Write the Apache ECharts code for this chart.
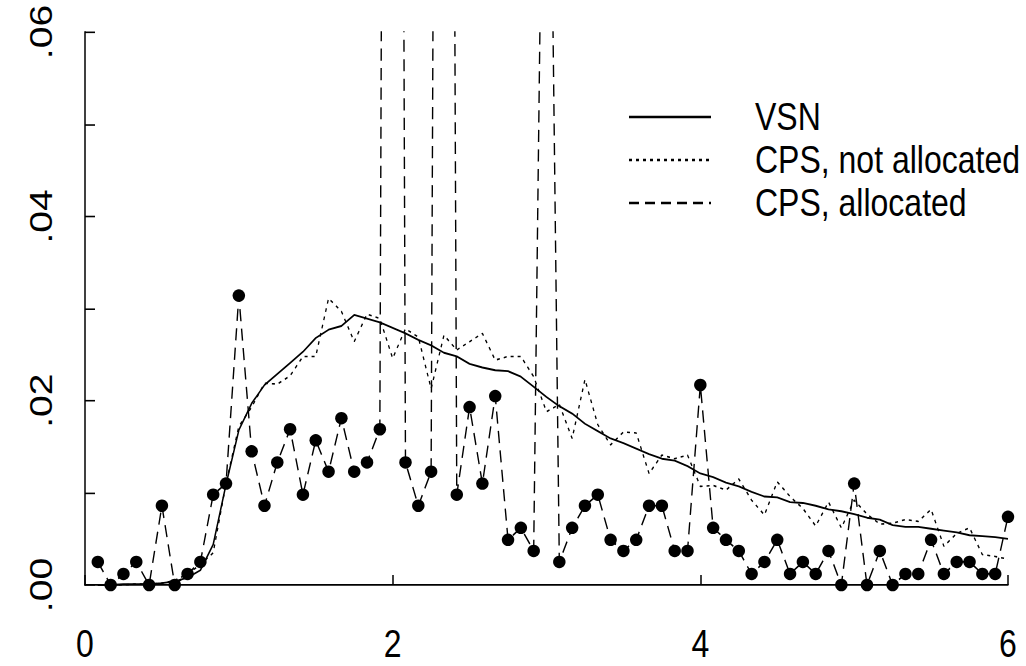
<!DOCTYPE html>
<html>
<head>
<meta charset="utf-8">
<script src="https://cdn.jsdelivr.net/npm/echarts@6/dist/echarts.min.js"></script>
<style>
html,body{margin:0;padding:0;background:#fff;overflow:hidden;}
#wrap{width:1026px;height:666px;overflow:hidden;}
#chart{width:1026px;height:546px;transform:scaleY(1.21978);transform-origin:0 0;}
</style>
</head>
<body>
<div id="wrap"><div id="chart"></div></div>
<script>
// x positions (k/12 grid)
const xValues = [0.0833,0.1667,0.25,0.3333,0.4167,0.5,0.5833,0.6667,0.75,0.8333,0.9167,1,
  1.0833,1.1667,1.25,1.3333,1.4167,1.5,1.5833,1.6667,1.75,1.8333,1.9167,2,
  2.0833,2.1667,2.25,2.3333,2.4167,2.5,2.5833,2.6667,2.75,2.8333,2.9167,3,
  3.0833,3.1667,3.25,3.3333,3.4167,3.5,3.5833,3.6667,3.75,3.8333,3.9167,4,
  4.0833,4.1667,4.25,4.3333,4.4167,4.5,4.5833,4.6667,4.75,4.8333,4.9167,5,
  5.0833,5.1667,5.25,5.3333,5.4167,5.5,5.5833,5.6667,5.75,5.8333,5.9167,6];

const vsn = [0.0000,0.0000,0.0001,0.0001,0.0001,0.0002,0.0004,0.0008,0.0016,0.0044,0.0109,0.0168,
  0.0197,0.0217,0.0229,0.0241,0.0253,0.0268,0.0277,0.0281,0.0293,0.0289,0.0285,0.0279,
  0.0273,0.0266,0.0260,0.0252,0.0248,0.0240,0.0236,0.0233,0.0232,0.0226,0.0215,0.0204,
  0.0194,0.0186,0.0175,0.0167,0.0159,0.0154,0.0148,0.0142,0.0137,0.0135,0.0129,0.0121,
  0.0117,0.0111,0.0107,0.0101,0.0096,0.0095,0.0090,0.0089,0.0086,0.0082,0.0080,0.0077,
  0.0073,0.0071,0.0065,0.0063,0.0063,0.0061,0.0059,0.0057,0.0054,0.0053,0.0052,0.0050];

const cpsNotAllocated = [0.0000,0.0000,0.0000,0.0001,0.0001,0.0002,0.0005,0.0012,0.0022,0.0035,0.0110,0.0172,
  0.0193,0.0219,0.0218,0.0227,0.0248,0.0248,0.0311,0.0297,0.0264,0.0294,0.0289,0.0246,
  0.0278,0.0269,0.0213,0.0271,0.0255,0.0264,0.0273,0.0244,0.0248,0.0248,0.0226,0.0188,
  0.0196,0.0159,0.0223,0.0174,0.0152,0.0166,0.0165,0.0121,0.0141,0.0137,0.0141,0.0107,
  0.0108,0.0103,0.0115,0.0092,0.0076,0.0112,0.0096,0.0083,0.0064,0.0090,0.0062,0.0092,
  0.0077,0.0066,0.0067,0.0071,0.0069,0.0082,0.0042,0.0056,0.0062,0.0033,0.0031,0.0028];

const cpsAllocated = [0.0025,0,0.0012,0.0025,0,0.0086,0,0.0012,0.0025,0.0098,0.0110,0.0314,
  0.0145,0.0086,0.0133,0.0169,0.0098,0.0157,0.0123,0.0181,0.0123,0.0133,0.0169,0.40,
  0.0133,0.0086,0.0123,0.35,0.0098,0.0193,0.0110,0.0205,0.0049,0.0062,0.0037,0.12,
  0.0025,0.0062,0.0086,0.0098,0.0049,0.0037,0.0049,0.0086,0.0086,0.0037,0.0037,0.0217,
  0.0062,0.0049,0.0037,0.0012,0.0025,0.0049,0.0012,0.0025,0.0012,0.0037,0,0.0110,
  0,0.0037,0,0.0012,0.0012,0.0049,0.0012,0.0025,0.0025,0.0012,0.0012,0.0074];

const seriesNames = ['VSN', 'CPS, not allocated', 'CPS, allocated'];
const xTicks = [0, 2, 4, 6];
const yTickLabels = ['.00', '', '.02', '', '.04', '', '.06'];

const pair = (ys) => xValues.map((x, i) => [x, ys[i]]);
const yMax = 0.06;
const SY = 1.21978; // vertical stretch of the whole picture (reference text is tall)

const FONT = '"Liberation Sans", Arial, Helvetica, sans-serif';
const FS = 32;
const chart = echarts.init(document.getElementById('chart'), null, {renderer: 'svg'});
chart.setOption({
  animation: false,
  backgroundColor: '#fff',
  grid: {left: 85, right: 18, top: 32 / SY, bottom: 81 / SY, containLabel: false},
  xAxis: {
    type: 'value', min: xTicks[0], max: xTicks[xTicks.length - 1], interval: 2,
    axisLine: {show: true, onZero: false, lineStyle: {color: '#000', width: 1.3}},
    axisTick: {show: true, inside: true, length: 10 / SY, lineStyle: {color: '#000', width: 1.5}},
    axisLabel: {show: true, margin: 32.5, color: '#000', fontSize: FS, fontFamily: FONT},
    splitLine: {show: false}
  },
  yAxis: {
    type: 'value', min: 0, max: yMax, interval: 0.01,
    axisLine: {show: true, onZero: false, lineStyle: {color: '#000', width: 1.5}},
    axisTick: {show: true, inside: true, length: 10, lineStyle: {color: '#000', width: 1.3}},
    axisLabel: {
      show: true, rotate: 90, margin: 28, color: '#000', fontSize: FS, fontFamily: FONT,
      formatter: (v) => yTickLabels[Math.round(v * 100)] || ''
    },
    splitLine: {show: false}
  },
  legend: {
    orient: 'vertical', left: 628, top: 78.3, padding: 0, itemGap: 0, itemWidth: 82, itemHeight: 12,
    data: seriesNames, selectedMode: false,
    itemStyle: {opacity: 0},
    textStyle: {color: '#000', fontSize: FS, fontFamily: FONT, lineHeight: 35.25, padding: [0, 0, 0, 39]}
  },
  series: [
    {name: seriesNames[0], type: 'line', data: pair(vsn), showSymbol: false, symbol: 'none',
     lineStyle: {color: '#000', width: 1.5, type: 'solid'}, itemStyle: {color: '#000'}},
    {name: seriesNames[1], type: 'line', data: pair(cpsNotAllocated), showSymbol: false, symbol: 'none',
     lineStyle: {color: '#000', width: 1.3, type: [3, 4]}, itemStyle: {color: '#000'}},
    {name: seriesNames[2], type: 'line', data: pair(cpsAllocated), showSymbol: false, symbol: 'none', clip: true,
     lineStyle: {color: '#000', width: 1.4, type: [10, 6]}, itemStyle: {color: '#000'}},
    {name: 'dots', type: 'scatter', data: pair(cpsAllocated).filter(p => p[1] <= yMax),
     symbol: 'circle', symbolSize: [12.5, 12.5 / SY], itemStyle: {color: '#000', opacity: 1}, clip: false}
  ]
});
</script>
</body>
</html>
